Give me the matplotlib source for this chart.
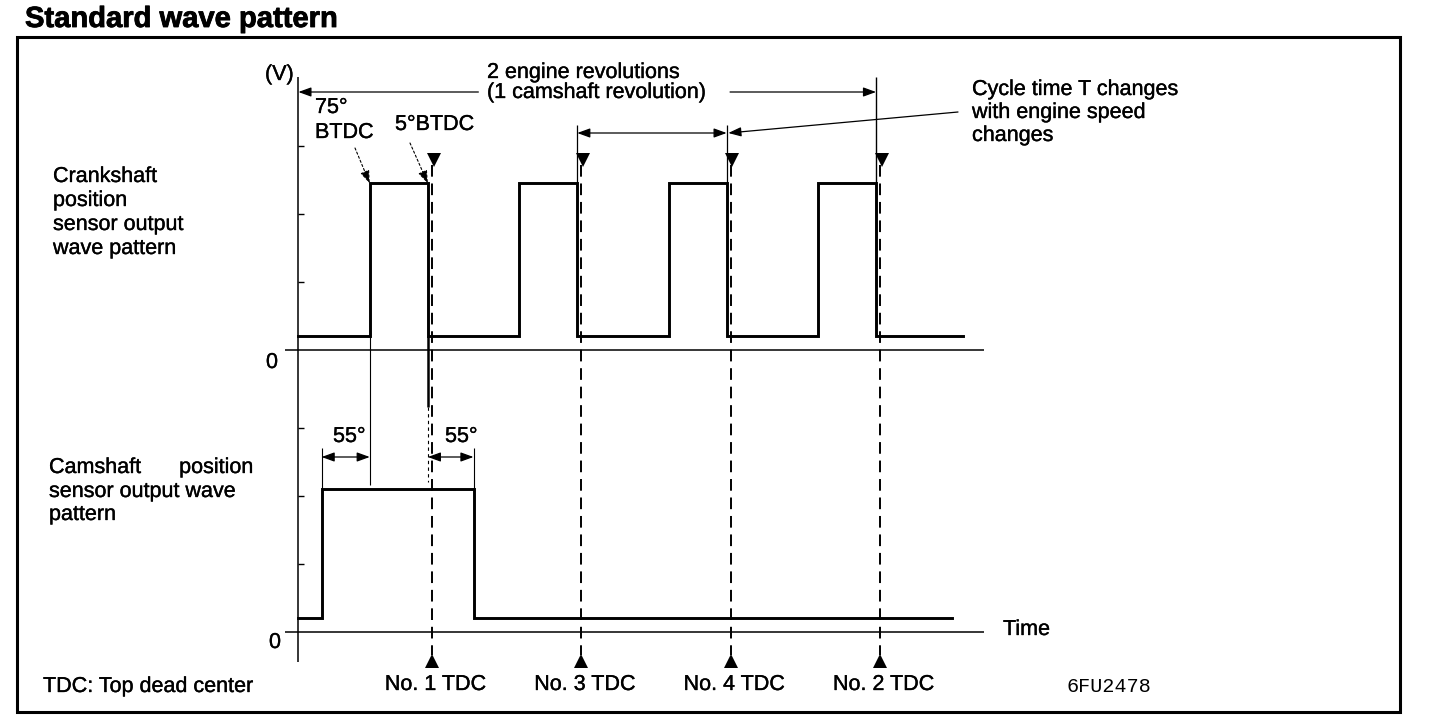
import matplotlib
matplotlib.use("Agg")
import matplotlib.pyplot as plt
from matplotlib.patches import Rectangle
import matplotlib.patheffects as pe

plt.rcParams['font.family'] = ['Liberation Sans', 'DejaVu Sans']

# ---------------- data (crank angle in degrees, No.1 TDC = 0) ----------------
crank_rise_deg = [-75, 105, 285, 465]      # 75 deg BTDC rising edges
crank_fall_deg = [-5, 175, 355, 535]       # 5 deg BTDC falling edges
crank_low_v, crank_high_v = 0.4, 4.9
cam_rise_deg, cam_fall_deg = -133, 50
cam_low_v, cam_high_v = 0.4, 4.2
tdc_deg = [0, 180, 360, 540]
tdc_labels = ["No. 1 TDC", "No. 3 TDC", "No. 4 TDC", "No. 2 TDC"]
volt_ticks = [2, 4, 6]
axis_deg = -161          # time origin (vertical voltage axis)
crank_end_deg = 640
cam_end_deg = 626
zero_line_deg = (-177, 665)

# ---------------- layout ----------------
W, H = 1440, 720
PX_DEG = 0.83
TDC1_PX = 432
PX_V = 34
CRANK_ZERO_PX = 350
CAM_ZERO_PX = 632
FS = 15.5
STROKE = [pe.withStroke(linewidth=0.25, foreground="black")]
STROKE_T = [pe.withStroke(linewidth=0.6, foreground="black")]

fig = plt.figure(figsize=(W / 100, H / 100), dpi=100)
fig.patch.set_facecolor("white")

def make_ax(zero_px):
    ax = fig.add_axes([0, 0, 1, 1])
    ax.set_xlim(-TDC1_PX / PX_DEG, (W - TDC1_PX) / PX_DEG)
    ax.set_ylim((zero_px - H) / PX_V, zero_px / PX_V)
    ax.axis("off")
    ax.patch.set_alpha(0)
    return ax

bg = fig.add_axes([0, 0, 1, 1])
bg.set_xlim(0, W)
bg.set_ylim(H, 0)
bg.axis("off")
axc = make_ax(CRANK_ZERO_PX)
axm = make_ax(CAM_ZERO_PX)

def vpx(zero_px, py):
    return (zero_px - py) / PX_V

def cy(py):
    return vpx(CRANK_ZERO_PX, py)

def my(py):
    return vpx(CAM_ZERO_PX, py)

def T(ax, x, y, s, **kw):
    kw.setdefault("fontsize", FS)
    kw.setdefault("va", "baseline")
    kw.setdefault("path_effects", STROKE)
    return ax.text(x, y, s, **kw)

K = "black"

# frame + title
bg.add_patch(Rectangle((17, 37), 1400 - 17, 712 - 37, fill=False, lw=2.2, ec=K))
T(bg, 25, 27, "Standard wave pattern", fontsize=21, fontweight="bold", path_effects=STROKE_T)

# ---------------- crank waveform ----------------
xs, ys = [axis_deg], [crank_low_v]
for r, f in zip(crank_rise_deg, crank_fall_deg):
    xs += [r, r, f, f]
    ys += [crank_low_v, crank_high_v, crank_high_v, crank_low_v]
xs.append(crank_end_deg)
ys.append(crank_low_v)
axc.plot(xs, ys, color=K, lw=2.1, solid_joinstyle="miter")
axc.hlines(0, *zero_line_deg, color=K, lw=1.1)

# ---------------- cam waveform ----------------
xs = [axis_deg, cam_rise_deg, cam_rise_deg, cam_fall_deg, cam_fall_deg, cam_end_deg]
ys = [cam_low_v, cam_low_v, cam_high_v, cam_high_v, cam_low_v, cam_low_v]
axm.plot(xs, ys, color=K, lw=2.1, solid_joinstyle="miter")
axm.hlines(0, *zero_line_deg, color=K, lw=1.1)

# vertical voltage axis and ticks
axc.vlines(axis_deg, cy(662), cy(77), color=K, lw=1.1)
tick_len = 7
for v in volt_ticks:
    axc.hlines(v, axis_deg, axis_deg + tick_len, color=K, lw=1.0)
    axm.hlines(v, axis_deg, axis_deg + tick_len, color=K, lw=1.0)
T(bg, 265, 80, "(V)")
T(bg, 266, 368, "0")
T(bg, 269, 648, "0")
T(bg, 1003, 635, "Time")

# TDC dashed lines + triangles + labels
for d, lab in zip(tdc_deg, tdc_labels):
    axc.plot([d, d], [cy(165), cy(655)], color=K, lw=1.4, ls=(0, (6, 3.5)))
    axc.plot(d + 2, cy(160), marker="v", ms=10, color=K, mew=0)
    axm.plot(d, my(661), marker="^", ms=10, color=K, mew=0)
    T(axm, d + 4, my(690), lab, ha="center")

# extension lines from crank edges
axc.vlines(crank_rise_deg[0], crank_low_v, cy(485), color=K, lw=0.8)
axc.vlines(crank_fall_deg[0], crank_low_v, cy(407), color=K, lw=1.8)
axc.plot([crank_fall_deg[0], crank_fall_deg[0]], [cy(407), cy(482)], color=K, lw=0.8, ls=(0, (3, 3)))
axm.vlines(cam_rise_deg, cam_high_v, my(448), color=K, lw=0.8)
axm.vlines(cam_fall_deg, cam_high_v, my(448), color=K, lw=0.8)

ah = dict(arrowstyle="<|-|>,head_length=0.55,head_width=0.2", color=K, lw=0.9,
          shrinkA=0, shrinkB=0, mutation_scale=14)
a1 = dict(arrowstyle="-|>,head_length=0.55,head_width=0.2", color=K, lw=0.9,
          shrinkA=0, shrinkB=0, mutation_scale=14)

# 55 degree dimensions
y55 = my(457)
axm.annotate("", xy=(cam_rise_deg, y55), xytext=(crank_rise_deg[0], y55), arrowprops=ah)
axm.annotate("", xy=(crank_fall_deg[0], y55), xytext=(cam_fall_deg, y55), arrowprops=ah)
T(bg, 333, 442, "55°")
T(bg, 445, 442, "55°")

# 2 engine revolutions
y2 = cy(92)
axc.annotate("", xy=(axis_deg, y2), xytext=(axis_deg + (478 - 298) / PX_DEG, y2), arrowprops=a1)
axc.annotate("", xy=(crank_fall_deg[-1], y2), xytext=(crank_fall_deg[-1] - (876 - 730) / PX_DEG, y2), arrowprops=a1)
axc.vlines(crank_fall_deg[-1], crank_high_v, cy(77), color=K, lw=1.0)
T(bg, 487, 78, "2 engine revolutions")
T(bg, 487, 98, "(1 camshaft revolution)")

# cycle time T
yT = cy(133)
axc.vlines([crank_fall_deg[1], crank_fall_deg[2]], crank_high_v, cy(125), color=K, lw=0.9)
axc.annotate("", xy=(crank_fall_deg[1], yT), xytext=(crank_fall_deg[2], yT), arrowprops=ah)
axc.annotate("", xy=(crank_fall_deg[2] + 2, yT), xytext=((958 - TDC1_PX) / PX_DEG, cy(112)), arrowprops=a1)
for i, s in enumerate(["Cycle time T changes", "with engine speed", "changes"]):
    T(bg, 972, 95 + 23 * i, s)

# 75 / 5 BTDC labels
T(bg, 315, 113, "75°")
T(bg, 315, 138, "BTDC")
T(bg, 395, 130, "5°BTDC")
ad = dict(arrowstyle="-|>,head_length=0.55,head_width=0.2", color=K, lw=0.8,
          ls=(0, (2, 2)), shrinkA=0, shrinkB=0, mutation_scale=14)
axc.annotate("", xy=(crank_rise_deg[0], crank_high_v), xytext=((355 - TDC1_PX) / PX_DEG, cy(148)), arrowprops=ad)
axc.annotate("", xy=(crank_fall_deg[0], crank_high_v), xytext=((410 - TDC1_PX) / PX_DEG, cy(143)), arrowprops=ad)

# left labels
for i, s in enumerate(["Crankshaft", "position", "sensor output", "wave pattern"]):
    T(bg, 53, 182 + 24 * i, s)
T(bg, 49, 473, "Camshaft")
T(bg, 253, 473, "position", ha="right")
T(bg, 49, 497, "sensor output wave")
T(bg, 49, 520, "pattern")

T(bg, 43, 692, "TDC: Top dead center")
bg.text(1066, 692, "6FU2478", fontsize=14.5, va="baseline", family="Liberation Mono")

fig.savefig("out.png", dpi=100, facecolor="white")
